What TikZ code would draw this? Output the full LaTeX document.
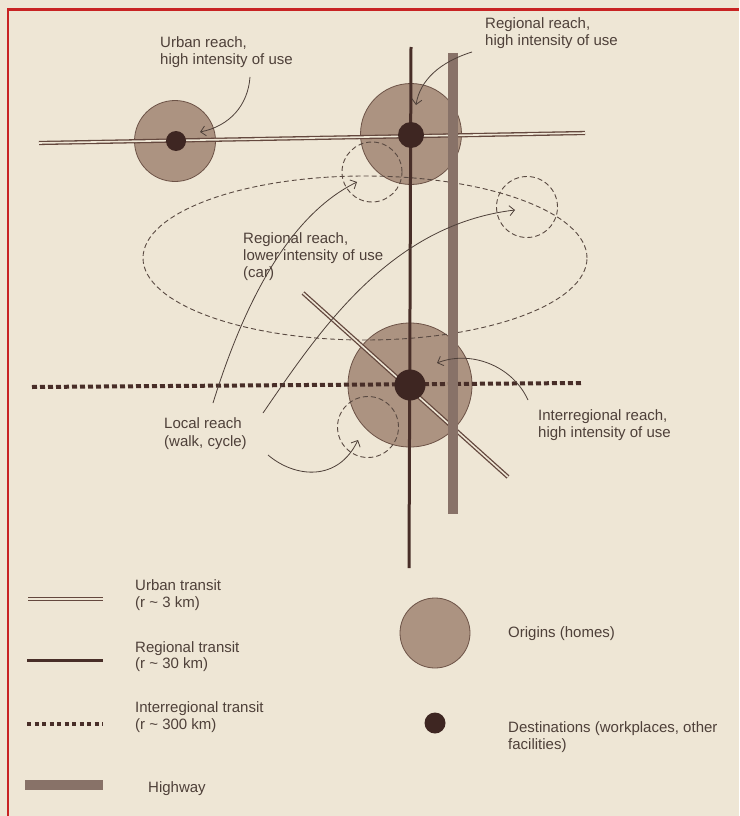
\documentclass[tikz,border=0pt]{standalone}
\usepackage{fontspec}
\setmainfont{Liberation Sans}
\usetikzlibrary{arrows.meta}
\definecolor{bg}{RGB}{238,230,213}
\definecolor{ink}{RGB}{78,64,57}
\definecolor{railD}{RGB}{72,46,40}
\definecolor{railU}{RGB}{100,72,62}
\definecolor{orig}{RGB}{172,147,129}
\definecolor{origedge}{RGB}{108,82,70}
\definecolor{destc}{RGB}{62,38,34}
\definecolor{hwyc}{RGB}{136,114,104}
\definecolor{dashc}{RGB}{90,74,66}
\definecolor{framec}{RGB}{200,35,35}
\begin{document}
\begin{tikzpicture}[x=1pt,y=-1pt,
  txt/.style={anchor=base west, inner sep=0pt, text=ink, font=\fontsize{15}{18}\selectfont},
  origin/.style={circle, fill=orig, draw=origedge, line width=0.8pt, inner sep=0pt},
  dest/.style={circle, fill=destc, inner sep=0pt},
  urban/.style={draw=railU, line width=1.3pt, double=bg, double distance=1.6pt},
  regional/.style={draw=railD, line width=3pt},
  inter/.style={draw=railD, line width=4pt, dash pattern=on 5pt off 3pt},
  hwy/.style={draw=hwyc, line width=9.5pt},
  reach/.style={draw=dashc, line width=0.9pt, dash pattern=on 5pt off 3pt},
  arr/.style={draw=ink, line width=0.8pt, -{Straight Barb[length=5pt,width=10pt]}}
]
\fill[bg] (0,0) rectangle (739,816);
\useasboundingbox (0,0) rectangle (739,816);
\draw[framec, line width=2.5pt] (739,9.5) -- (8,9.5) -- (8,816);

% origins
\node[origin, minimum size=81pt] (o1) at (175,141) {};
\node[origin, minimum size=101pt] (o2) at (411,134) {};
\node[origin, minimum size=124pt] (o3) at (410,385) {};

% reach areas
\draw[reach] (365,258) ellipse [x radius=222pt, y radius=82pt];
\node[circle, reach, minimum size=60pt, inner sep=0pt] (c1) at (372,172) {};
\node[circle, reach, minimum size=61pt, inner sep=0pt] (c2) at (527,207) {};
\node[circle, reach, minimum size=61pt, inner sep=0pt] (c3) at (368,427) {};

% transit lines
\coordinate (uL) at (39,143);
\coordinate (uR) at (585,133);
\draw[urban] (uL) -- (uR);
\coordinate (dA) at (303,293);
\coordinate (dB) at (508,477);
\draw[urban] (dA) -- (dB);
\coordinate (iL) at (32,387);
\coordinate (iR) at (581,383);
\draw[inter] (iL) -- (iR);
\coordinate (rT) at (411,47);
\coordinate (rB) at (409,568);
\draw[regional] (rT) -- (rB);
\coordinate (hT) at (453,53);
\coordinate (hB) at (453,514);
\draw[hwy] (hT) -- (hB);

% destinations
\node[dest, minimum size=20pt] (d1) at (176,141) {};
\node[dest, minimum size=26pt] (d2) at (411,135) {};
\node[dest, minimum size=31pt] (d3) at (410,385) {};

% labels
\node[txt] (ur1) at (160,48) {Urban reach,};
\node[txt] (ur2) at (160,64) {high intensity of use};
\node[txt] (rr1) at (485,29) {Regional reach,};
\node[txt] (rr2) at (485,46) {high intensity of use};
\node[txt] (rl1) at (243,243) {Regional reach,};
\node[txt] (rl2) at (243,260) {lower intensity of use};
\node[txt] (rl3) at (243,277) {(car)};
\node[txt] (lr1) at (164,428) {Local reach};
\node[txt] (lr2) at (164,446) {(walk, cycle)};
\node[txt] (ir1) at (538,420) {Interregional reach,};
\node[txt] (ir2) at (538,437) {high intensity of use};

% arrows
\coordinate (a1s) at (250,77);  \coordinate (a1e) at (200,132);
\draw[arr] (a1s) .. controls (248,105) and (230,126) .. (a1e);
\coordinate (a2s) at (472,52);  \coordinate (a2e) at (416,105);
\draw[arr] (a2s) .. controls (440,62) and (420,80) .. (a2e);
\coordinate (a3s) at (213,403); \coordinate (a3e) at (357,182);
\draw[arr] (a3s) .. controls (245,300) and (290,215) .. (a3e);
\coordinate (a4s) at (263,413); \coordinate (a4e) at (515,210);
\draw[arr] (a4s) .. controls (320,330) and (390,225) .. (a4e);
\coordinate (a5s) at (268,455); \coordinate (a5e) at (358,440);
\draw[arr] (a5s) .. controls (295,478) and (338,482) .. (a5e);
\coordinate (a6s) at (528,400); \coordinate (a6e) at (437,363);
\draw[arr] (a6s) .. controls (512,365) and (470,350) .. (a6e);

% legend
\coordinate (lu1) at (28,599); \coordinate (lu2) at (103,599);
\draw[urban] (lu1) -- (lu2);
\node[txt] (lut1) at (135,590) {Urban transit};
\node[txt] (lut2) at (135,607) {(r \textasciitilde{} 3 km)};
\coordinate (lr1c) at (27,660); \coordinate (lr2c) at (103,660);
\draw[regional] (lr1c) -- (lr2c);
\node[txt] (lrt1) at (135,652) {Regional transit};
\node[txt] (lrt2) at (135,668) {(r \textasciitilde{} 30 km)};
\coordinate (li1) at (27,724); \coordinate (li2) at (103,724);
\draw[inter, line width=3.5pt, dash pattern=on 4pt off 3.5pt] (li1) -- (li2);
\node[txt] (lit1) at (135,712) {Interregional transit};
\node[txt] (lit2) at (135,729) {(r \textasciitilde{} 300 km)};
\coordinate (lh1) at (25,785); \coordinate (lh2) at (103,785);
\draw[hwy, line width=10pt] (lh1) -- (lh2);
\node[txt] (lht) at (148,792) {Highway};
\node[origin, minimum size=70pt] (lo) at (435,633) {};
\node[txt] (lot) at (508,637) {Origins (homes)};
\node[dest, minimum size=21pt] (ld) at (435,723) {};
\node[txt] (ldt1) at (508,732) {Destinations (workplaces, other};
\node[txt] (ldt2) at (508,749) {facilities)};
\end{tikzpicture}
\end{document}
